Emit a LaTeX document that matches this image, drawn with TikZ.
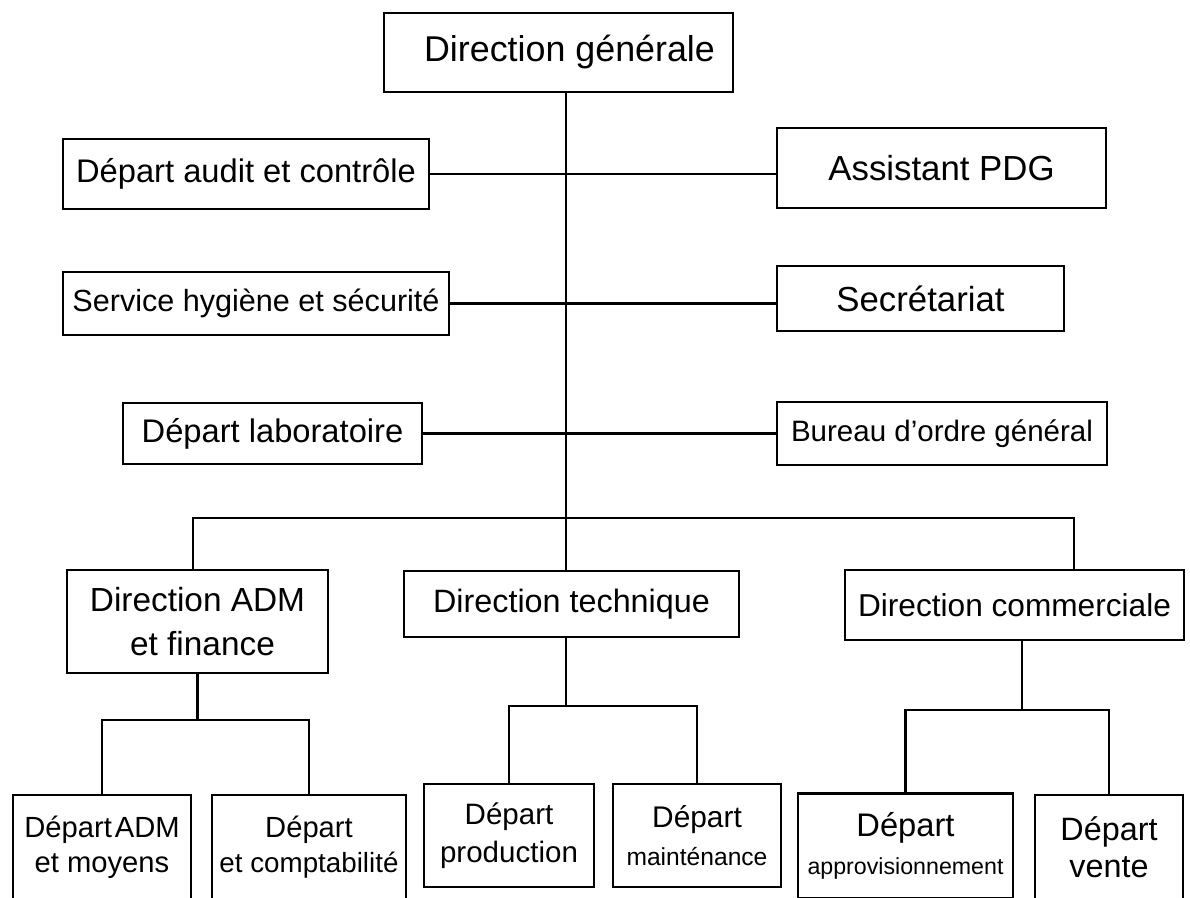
\documentclass[tikz,border=0pt]{standalone}
\usepackage{fontspec}
\setmainfont{Liberation Sans}
\usetikzlibrary{positioning}

\newcommand{\fsz}[1]{\fontsize{#1}{1.2\dimexpr#1pt\relax}\selectfont}

\begin{document}
\begin{tikzpicture}[
  box/.style={draw, line width=0.8pt, align=center, inner sep=0pt},
  link/.style={line width=0.8pt}
]
\useasboundingbox (0,0) rectangle (11.9,8.97);
\clip (0,0) rectangle (11.9,8.97);

% top of the chart
\node[box, minimum width=3.49cm, minimum height=0.79cm, font=\fsz{10.2}] (dg) at (5.585,8.445) {\hspace*{0.22cm}Direction générale};

\node[box, minimum width=3.66cm, minimum height=0.70cm, font=\fsz{9.3}] (audit) at (2.46,7.23) {Départ audit et contrôle};
\node[box, minimum width=3.29cm, minimum height=0.80cm, font=\fsz{9.9}] (assist) at (9.415,7.29) {Assistant PDG};
\node[box, minimum width=3.86cm, minimum height=0.63cm, font=\fsz{8.7}] (hyg) at (2.56,5.935) {Service hygiène et sécurité};
\node[box, minimum width=2.87cm, minimum height=0.65cm, font=\fsz{9.9}] (secr) at (9.205,5.985) {Secrétariat};
\node[box, minimum width=2.99cm, minimum height=0.61cm, font=\fsz{9.3}] (labo) at (2.725,4.635) {Départ laboratoire};
\node[box, minimum width=3.30cm, minimum height=0.63cm, font=\fsz{8.4}] (bureau) at (9.42,4.635) {Bureau d’ordre général};

% directions
\node[box, minimum width=2.61cm, minimum height=1.03cm, font=\fontsize{9.5}{12.3}\selectfont] (adm) at (1.975,2.755) {Direction ADM\\\hspace*{0.1cm}et finance};
\node[box, minimum width=3.35cm, minimum height=0.66cm, font=\fsz{9.2}] (tech) at (5.715,2.93) {Direction technique};
\node[box, minimum width=3.39cm, minimum height=0.70cm, font=\fsz{9.0}] (comm) at (10.145,2.92) {Direction commerciale};

% departements
\node[box, minimum width=1.78cm, minimum height=1.05cm, font=\fontsize{8.3}{10}\selectfont] (admmoy) at (1.02,0.495) {Départ\hspace{0.1em}ADM\\et moyens};
\node[box, minimum width=1.94cm, minimum height=1.05cm, font=\fontsize{7.9}{10}\selectfont] (compta) at (3.09,0.495) {{\fsz{8.3}Départ}\\et comptabilité};
\node[box, minimum width=1.70cm, minimum height=1.03cm, font=\fontsize{8.4}{10.9}\selectfont] (prod) at (5.09,0.615) {Départ\\production};
\node[box, minimum width=1.68cm, minimum height=1.03cm, font=\fontsize{7}{10.9}\selectfont] (maint) at (6.97,0.615) {{\fsz{8.5}Départ}\\mainténance};
\node[box, minimum width=2.15cm, minimum height=1.05cm, font=\fontsize{6.6}{11}\selectfont] (approv) at (9.055,0.51) {{\fsz{9.3}Départ}\\approvisionnement};
\node[box, minimum width=1.48cm, minimum height=1.05cm, font=\fontsize{9.2}{10.5}\selectfont] (vente) at (11.09,0.495) {Départ\\vente};

% junction points
\coordinate (hub) at (5.66,3.79);
\coordinate (busL) at (1.93,3.79);
\coordinate (busR) at (10.74,3.79);
\coordinate (admjoin) at (1.975,1.77);
\coordinate (techjoin) at (5.66,1.91);
\coordinate (commjoin) at (10.22,1.87);

\draw[link] (dg.south -| hub) -- (hub) -- (hub |- tech.north);
\draw[link] (audit.east) -- (audit.east -| assist.west);
\draw[link] (hyg.east) -- (hyg.east -| secr.west);
\draw[link] (labo.east) -- (bureau.west);
\draw[link] (busL |- adm.north) -- (busL) -- (busR) -- (busR |- comm.north);

\draw[link] (adm.south) -- (admjoin);
\draw[link] (admmoy.north) |- (admjoin) -| (compta.north);
\draw[link] (techjoin |- tech.south) -- (techjoin);
\draw[link] (prod.north) |- (techjoin) -| (maint.north);
\draw[link] (commjoin |- comm.south) -- (commjoin);
\draw[link] (approv.north) |- (commjoin) -| (vente.north);
\end{tikzpicture}
\end{document}
